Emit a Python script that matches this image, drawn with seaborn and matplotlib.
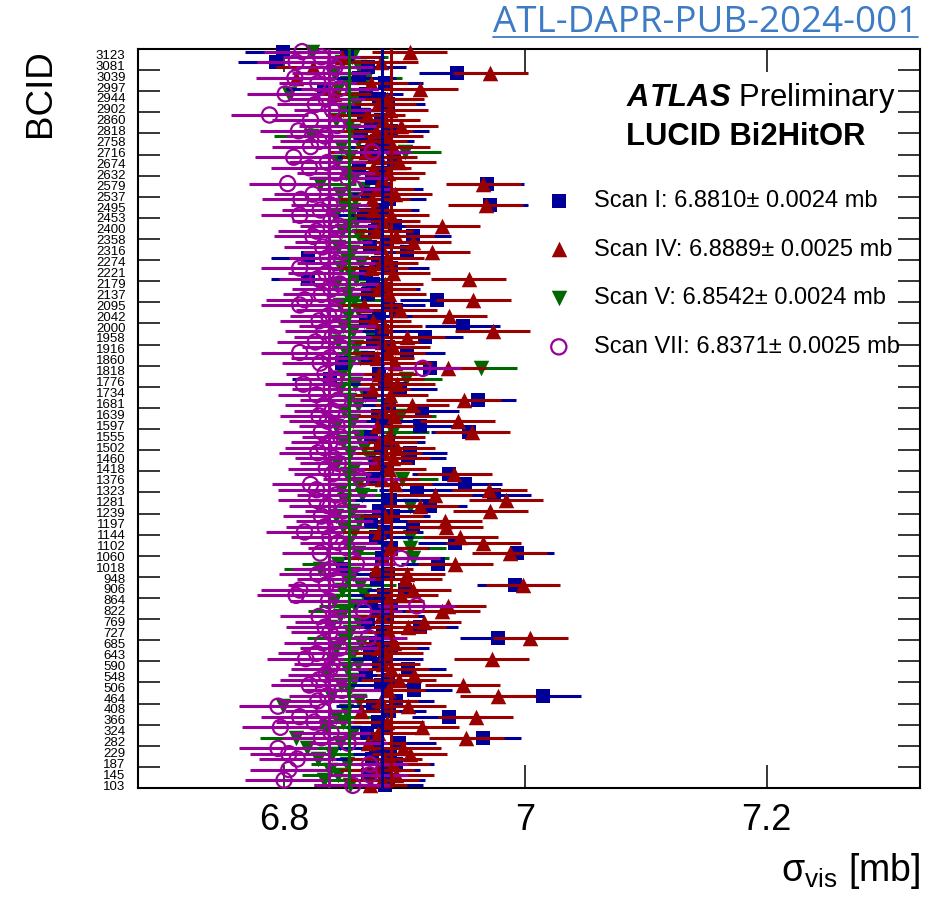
import numpy as np
import pandas as pd
import matplotlib
matplotlib.use("Agg")
import matplotlib.pyplot as plt
import seaborn as sns
from matplotlib.lines import Line2D
from matplotlib.ticker import FixedLocator, FuncFormatter

# ---------------- data (rows listed top -> bottom) ----------------
bcid_labels = ["3123", "3081", "3039", "2997", "2944", "2902", "2860", "2818", "2758", "2716",
               "2674", "2632", "2579", "2537", "2495", "2453", "2400", "2358", "2316", "2274",
               "2221", "2179", "2137", "2095", "2042", "2000", "1958", "1916", "1860", "1818",
               "1776", "1734", "1681", "1639", "1597", "1555", "1502", "1460", "1418", "1376",
               "1323", "1281", "1239", "1197", "1144", "1102", "1060", "1018", "948", "906",
               "864", "822", "769", "727", "685", "643", "590", "548", "506", "464",
               "408", "366", "324", "282", "229", "187", "145", "103"]

scan_I = [6.799, 6.852, 6.793, 6.870, 6.943, 6.862, 6.884, 6.833, 6.868, 6.879,
          6.886, 6.858, 6.866, 6.880, 6.872, 6.889, 6.864, 6.877, 6.883, 6.869,
          6.875, 6.891, 6.862, 6.880, 6.873, 6.968, 6.884, 6.870, 6.887, 6.971,
          6.881, 6.866, 6.878, 6.892, 6.875, 6.907, 6.885, 6.871, 6.902, 6.820,
          6.878, 6.889, 6.868, 6.820, 6.874, 6.882, 6.870, 6.927, 6.886, 6.893,
          6.879, 6.868, 6.948, 6.881, 6.917, 6.874, 6.886, 6.902, 6.870, 6.848,
          6.921, 6.879, 6.838, 6.884, 6.896, 6.871, 6.961, 6.887, 6.914, 6.878,
          6.883, 6.913, 6.953, 6.872, 6.886, 6.880, 6.904, 6.903, 6.876, 6.885,
          6.937, 6.874, 6.950, 6.910, 6.974, 6.888, 6.921, 6.879, 6.890, 6.872,
          6.907, 6.884, 6.876, 6.942, 6.889, 6.993, 6.881, 6.928, 6.849, 6.886,
          6.877, 6.991, 6.900, 6.883, 6.872, 6.889, 6.878, 6.885, 6.870, 6.913,
          6.882, 6.977, 6.876, 6.889, 6.871, 6.884, 6.879, 6.903, 6.868, 6.886,
          6.880, 6.908, 7.015, 6.893, 6.874, 6.887, 6.937, 6.878, 6.883, 6.869,
          6.965, 6.895, 6.876, 6.888, 6.873, 6.893, 6.882, 6.870, 6.886, 6.884]

scan_IV = [6.904, 6.848, 6.880, 6.824, 6.971, 6.810, 6.872, 6.913, 6.841, 6.885,
           6.878, 6.888, 6.869, 6.882, 6.897, 6.876, 6.884, 6.871, 6.890, 6.868,
           6.879, 6.895, 6.874, 6.886, 6.881, 6.965, 6.877, 6.892, 6.873, 6.967,
           6.874, 6.889, 6.882, 6.931, 6.876, 6.893, 6.907, 6.880, 6.923, 6.885,
           6.880, 6.872, 6.890, 6.953, 6.884, 6.878, 6.887, 6.957, 6.866, 6.896,
           6.937, 6.874, 6.883, 6.973, 6.902, 6.881, 6.890, 6.886, 6.877, 6.892,
           6.936, 6.879, 6.885, 6.894, 6.873, 6.888, 6.949, 6.906, 6.882, 6.891,
           6.944, 6.877, 6.956, 6.886, 6.879, 6.894, 6.883, 6.890, 6.875, 6.887,
           6.941, 6.881, 6.892, 6.970, 6.925, 6.984, 6.913, 6.971, 6.884, 6.933,
           6.934, 6.879, 6.946, 6.965, 6.888, 6.987, 6.882, 6.942, 6.876, 6.902,
           6.900, 6.998, 6.907, 6.897, 6.885, 6.936, 6.931, 6.880, 6.916, 6.903,
           6.887, 7.004, 6.891, 6.879, 6.884, 6.972, 6.882, 6.889, 6.908, 6.895,
           6.948, 6.886, 6.977, 6.880, 6.903, 6.864, 6.959, 6.885, 6.914, 6.878,
           6.951, 6.870, 6.899, 6.904, 6.883, 6.890, 6.877, 6.893, 6.881, 6.871]

scan_V = [6.823, 6.856, 6.848, 6.862, 6.841, 6.868, 6.852, 6.845, 6.804, 6.858,
          6.860, 6.849, 6.865, 6.843, 6.853, 6.857, 6.822, 6.861, 6.847, 6.900,
          6.855, 6.844, 6.863, 6.851, 6.858, 6.830, 6.866, 6.846, 6.859, 6.849,
          6.857, 6.842, 6.860, 6.853, 6.848, 6.862, 6.868, 6.845, 6.856, 6.851,
          6.864, 6.847, 6.855, 6.860, 6.843, 6.869, 6.852, 6.858, 6.846, 6.861,
          6.853, 6.866, 6.849, 6.857, 6.872, 6.845, 6.860, 6.851, 6.863, 6.855,
          6.963, 6.848, 6.901, 6.859, 6.846, 6.867, 6.854, 6.861, 6.850, 6.896,
          6.857, 6.843, 6.890, 6.862, 6.849, 6.866, 6.855, 6.871, 6.844, 6.858,
          6.852, 6.898, 6.861, 6.847, 6.865, 6.850, 6.904, 6.856, 6.843, 6.862,
          6.849, 6.858, 6.904, 6.853, 6.904, 6.861, 6.907, 6.845, 6.830, 6.857,
          6.852, 6.863, 6.848, 6.866, 6.841, 6.859, 6.850, 6.846, 6.862, 6.838,
          6.855, 6.849, 6.864, 6.843, 6.857, 6.840, 6.861, 6.852, 6.836, 6.858,
          6.847, 6.854, 6.839, 6.862, 6.799, 6.851, 6.843, 6.849, 6.835, 6.857,
          6.810, 6.846, 6.819, 6.840, 6.828, 6.852, 6.838, 6.845, 6.833, 6.855]

scan_VII = [6.815, 6.831, 6.810, 6.842, 6.839, 6.809, 6.828, 6.846, 6.801, 6.835,
            6.826, 6.840, 6.788, 6.822, 6.844, 6.812, 6.834, 6.829, 6.822, 6.873,
            6.808, 6.836, 6.821, 6.843, 6.853, 6.803, 6.859, 6.824, 6.814, 6.838,
            6.830, 6.813, 6.839, 6.845, 6.827, 6.824, 6.841, 6.832, 6.848, 6.836,
            6.843, 6.813, 6.835, 6.828, 6.846, 6.839, 6.831, 6.817, 6.813, 6.842,
            6.837, 6.829, 6.844, 6.833, 6.840, 6.826, 6.847, 6.813, 6.838, 6.830,
            6.915, 6.834, 6.842, 6.816, 6.839, 6.827, 6.845, 6.833, 6.840, 6.829,
            6.836, 6.844, 6.831, 6.847, 6.838, 6.833, 6.828, 6.841, 6.845, 6.835,
            6.840, 6.864, 6.822, 6.827, 6.843, 6.827, 6.836, 6.849, 6.831, 6.842,
            6.834, 6.817, 6.838, 6.845, 6.852, 6.830, 6.897, 6.860, 6.839, 6.828,
            6.843, 6.835, 6.813, 6.810, 6.837, 6.910, 6.866, 6.829, 6.841, 6.834,
            6.838, 6.870, 6.832, 6.846, 6.827, 6.818, 6.840, 6.838, 6.835, 6.829,
            6.821, 6.848, 6.836, 6.828, 6.795, 6.833, 6.813, 6.825, 6.797, 6.839,
            6.831, 6.853, 6.795, 6.804, 6.811, 6.871, 6.804, 6.871, 6.800, 6.857]

# typical per-scan statistical uncertainty of one BCID (mb)
err_I, err_IV, err_V, err_VII = 0.031, 0.031, 0.030, 0.032
scan_names = ["Scan I", "Scan IV", "Scan V", "Scan VII"]
scan_means = [6.8810, 6.8889, 6.8542, 6.8371]
scan_mean_unc = [0.0024, 0.0025, 0.0024, 0.0025]
x_ticks = [6.8, 7.0, 7.2]

# ---------------- build table ----------------
n_rows = len(scan_I)
rows = np.arange(n_rows)
df = pd.concat([
    pd.DataFrame({"scan": name, "row": rows, "sigma": vals, "err": err})
    for name, vals, err in zip(scan_names, [scan_I, scan_IV, scan_V, scan_VII],
                               [err_I, err_IV, err_V, err_VII])
], ignore_index=True)

# ---------------- style ----------------
sns.set_style("white")
plt.rcParams["font.family"] = ["Liberation Sans", "DejaVu Sans"]
plt.rcParams["mathtext.fontset"] = "custom"
plt.rcParams["mathtext.rm"] = "Liberation Sans"
plt.rcParams["mathtext.it"] = "Liberation Sans:italic"
plt.rcParams["mathtext.bf"] = "Liberation Sans:italic:bold"
for key in ["text.color", "axes.labelcolor", "xtick.color", "ytick.color", "axes.edgecolor"]:
    plt.rcParams[key] = "black"

colors = {"Scan I": "#000099", "Scan IV": "#990000", "Scan V": "#006600", "Scan VII": "#990099"}
markers = {"Scan I": "s", "Scan IV": "^", "Scan V": "v", "Scan VII": "o"}
sizes = {"Scan I": 100, "Scan IV": 125, "Scan V": 125, "Scan VII": 120}
draw_order = ["Scan V", "Scan I", "Scan IV", "Scan VII"]

fig = plt.figure(figsize=(9.37, 8.97), dpi=100)
ax = fig.add_axes([138 / 937, 1 - 788 / 897, 782 / 937, 739 / 897])

for k, name in enumerate(draw_order):
    sub = df[df["scan"] == name]
    c = colors[name]
    i = scan_names.index(name)
    lab = f"{name}: {scan_means[i]:.4f}\u00b1 {scan_mean_unc[i]:.4f} mb"
    ax.errorbar(sub["sigma"], sub["row"], xerr=sub["err"], fmt="none", ecolor=c,
                elinewidth=2.2, capsize=0, zorder=2 + 2 * k, clip_on=False)
    if name == "Scan VII":
        sns.scatterplot(data=sub, x="sigma", y="row", marker="o", s=sizes[name],
                        color=c, facecolors="none", edgecolor=c, linewidth=1.6,
                        ax=ax, zorder=3 + 2 * k, label=lab, clip_on=False)
    else:
        sns.scatterplot(data=sub, x="sigma", y="row", marker=markers[name], s=sizes[name],
                        color=c, edgecolor=c, linewidth=0, ax=ax,
                        zorder=3 + 2 * k, label=lab, clip_on=False)

for name, m in zip(scan_names, scan_means):
    ax.axvline(m, color=colors[name], lw=2.2, zorder=20)

# axes ranges
ax.set_xlim(6.679, 7.327)
ax.set_ylim(n_rows - 0.5, -0.5)

# y labels
label_pos = np.linspace(0.5, n_rows - 1, len(bcid_labels))
ax.set_yticks(label_pos)
ax.set_yticklabels(bcid_labels)
ax.yaxis.set_minor_locator(FixedLocator(np.arange(-0.5, n_rows + 0.1, 4)))
ax.tick_params(axis="y", which="major", length=0, labelsize=9.5, pad=9, labelcolor="black")
ax.tick_params(axis="y", which="minor", direction="in", length=15.8, width=1.1,
               left=True, right=True, color="black")

ax.set_xticks(x_ticks)
ax.xaxis.set_major_formatter(FuncFormatter(lambda v, _: f"{v:g}"))
ax.tick_params(axis="x", which="major", direction="in", length=16.5, width=1.1,
               top=True, bottom=True, labelsize=26, pad=11, color="black", labelcolor="black")
ax.xaxis.set_minor_locator(FixedLocator([]))

for sp in ax.spines.values():
    sp.set_linewidth(1.5)
    sp.set_color("black")

ax.set_xlabel("\u03c3$_{\\mathrm{vis}}$ [mb]", fontsize=27, loc="right", labelpad=9,
              color="black")
ax.set_ylabel("BCID", fontsize=26.5, loc="top", color="black")
ax.yaxis.set_label_coords(-0.102, 1.0)

# legend
handles, labels = ax.get_legend_handles_labels()
order = [labels.index(l) for l in
         [f"{n}: {m:.4f}\u00b1 {u:.4f} mb" for n, m, u in zip(scan_names, scan_means, scan_mean_unc)]]
leg = ax.legend([handles[i] for i in order], [labels[i] for i in order],
                loc="upper left", bbox_to_anchor=((547 - 138) / 782, (788 - 190) / 739),
                frameon=False, fontsize=17, handlelength=1.0, handletextpad=1.0,
                borderpad=0, borderaxespad=0, labelspacing=1.13)
for txt in leg.get_texts():
    txt.set_color("black")

# ATLAS labels
ax.text((626 - 138) / 782, (788 - 98) / 739, "$\\mathbf{ATLAS}$ Preliminary",
        transform=ax.transAxes, fontsize=22.3, ha="left", va="center", zorder=30,
        color="black")
ax.text((626 - 138) / 782, (788 - 137) / 739, "LUCID Bi2HitOR", fontweight="bold",
        transform=ax.transAxes, fontsize=22.3, ha="left", va="center", zorder=30,
        color="black")

# document reference (link-style, underlined)
link_color = "#3d7bc4"
t = fig.text(918 / 937, 1 - 32 / 897, "ATL-DAPR-PUB-2024-001", color=link_color,
             fontsize=26.5, family=["Open Sans", "DejaVu Sans"],
             ha="right", va="baseline")
fig.canvas.draw()
bb = t.get_window_extent(fig.canvas.get_renderer())
fig.add_artist(Line2D([bb.x0 / 937, bb.x1 / 937], [1 - 37 / 897, 1 - 37 / 897],
                      color=link_color, lw=1.3, transform=fig.transFigure))

fig.savefig("out.png", dpi=100)
